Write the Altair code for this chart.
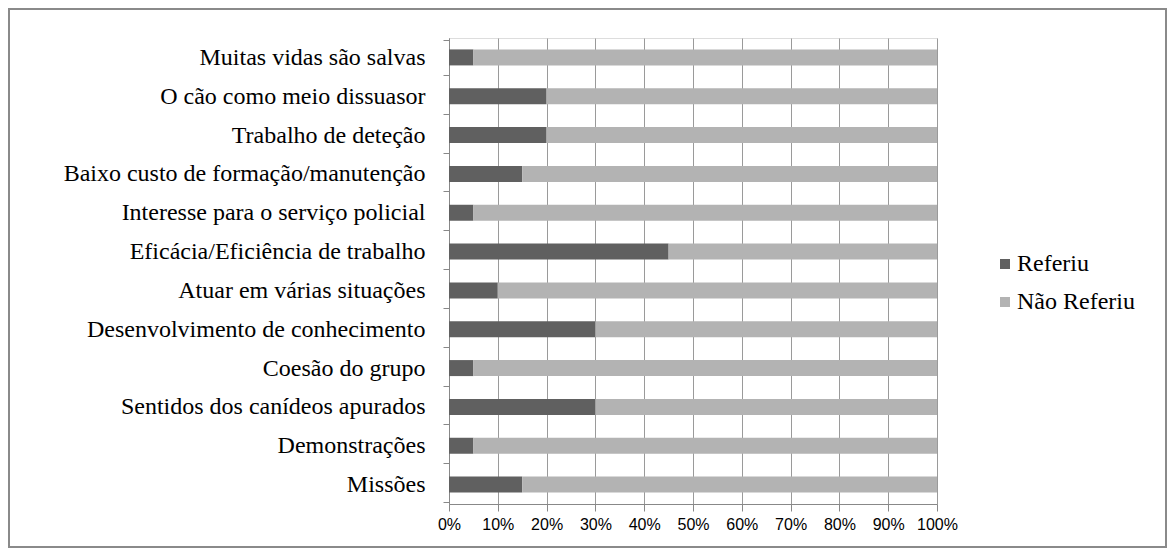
import altair as alt
import pandas as pd

categories = [
    "Muitas vidas são salvas",
    "O cão como meio dissuasor",
    "Trabalho de deteção",
    "Baixo custo de formação/manutenção",
    "Interesse para o serviço policial",
    "Eficácia/Eficiência de trabalho",
    "Atuar em várias situações",
    "Desenvolvimento de conhecimento",
    "Coesão do grupo",
    "Sentidos dos canídeos apurados",
    "Demonstrações",
    "Missões",
]
referiu = [5, 20, 20, 15, 5, 45, 10, 30, 5, 30, 5, 15]
nao_referiu = [100 - v for v in referiu]
series = ["Referiu", "Não Referiu"]
colors = ["#606060", "#b3b3b3"]

rows = []
for c, r, n in zip(categories, referiu, nao_referiu):
    rows.append({"cat": c, "serie": "Referiu", "val": r / 100, "ord": 0})
    rows.append({"cat": c, "serie": "Não Referiu", "val": n / 100, "ord": 1})
df = pd.DataFrame(rows)

W, H = 488, 466
PL, PT, PR, PB = 441, 30, 231, 46
SERIF = "'Liberation Serif', 'Times New Roman', serif"

bars = alt.Chart(df).mark_bar(size=16).encode(
    y=alt.Y("cat:N", sort=categories, title=None,
            axis=alt.Axis(labelFont=SERIF, labelFontSize=24,
                          labelColor="#000000", labelPadding=18,
                          tickBand="extent", tickSize=6, tickColor="#888888",
                          domainColor="#888888", grid=False, labelLimit=600)),
    x=alt.X("val:Q", stack="zero", title=None,
            scale=alt.Scale(domain=[0, 1], nice=False),
            axis=alt.Axis(format=".0%", values=[i / 10 for i in range(11)],
                          labelFont="Liberation Sans", labelFontSize=16,
                          labelColor="#000000", labelOverlap=False,
                          labelFlush=False,
                          labelPadding=5, tickSize=7, tickColor="#888888",
                          domainColor="#888888", grid=True,
                          gridColor="#9a9a9a", gridWidth=1)),
    color=alt.Color("serie:N", sort=series,
                    scale=alt.Scale(domain=series, range=colors),
                    legend=alt.Legend(title=None, orient="none",
                                      legendX=544, legendY=214,
                                      symbolType="square", symbolSize=100,
                                      symbolStrokeWidth=0,
                                      labelFont=SERIF,
                                      labelFontSize=24, labelColor="#000000",
                                      rowPadding=14, labelOffset=0)),
    order=alt.Order("ord:Q"),
)

border = alt.Chart(pd.DataFrame({"a": [0]})).mark_rect(
    fill=None, stroke="#8a8a8a", strokeWidth=2
).encode(
    x=alt.value(-PL + 1), x2=alt.value(W + PR - 2),
    y=alt.value(-PT + 1), y2=alt.value(H + PB - 3),
)

chart = alt.layer(bars, border).properties(
    width=W, height=H,
    autosize=alt.AutoSizeParams(type="none"),
    padding={"left": PL, "top": PT, "right": PR, "bottom": PB},
).configure_view(stroke=None).configure(
    background="#ffffff", font=SERIF
).configure_legend(labelFont=SERIF, labelFontSize=24)

chart.save("out.html", embed_options={"renderer": "svg", "actions": False})
